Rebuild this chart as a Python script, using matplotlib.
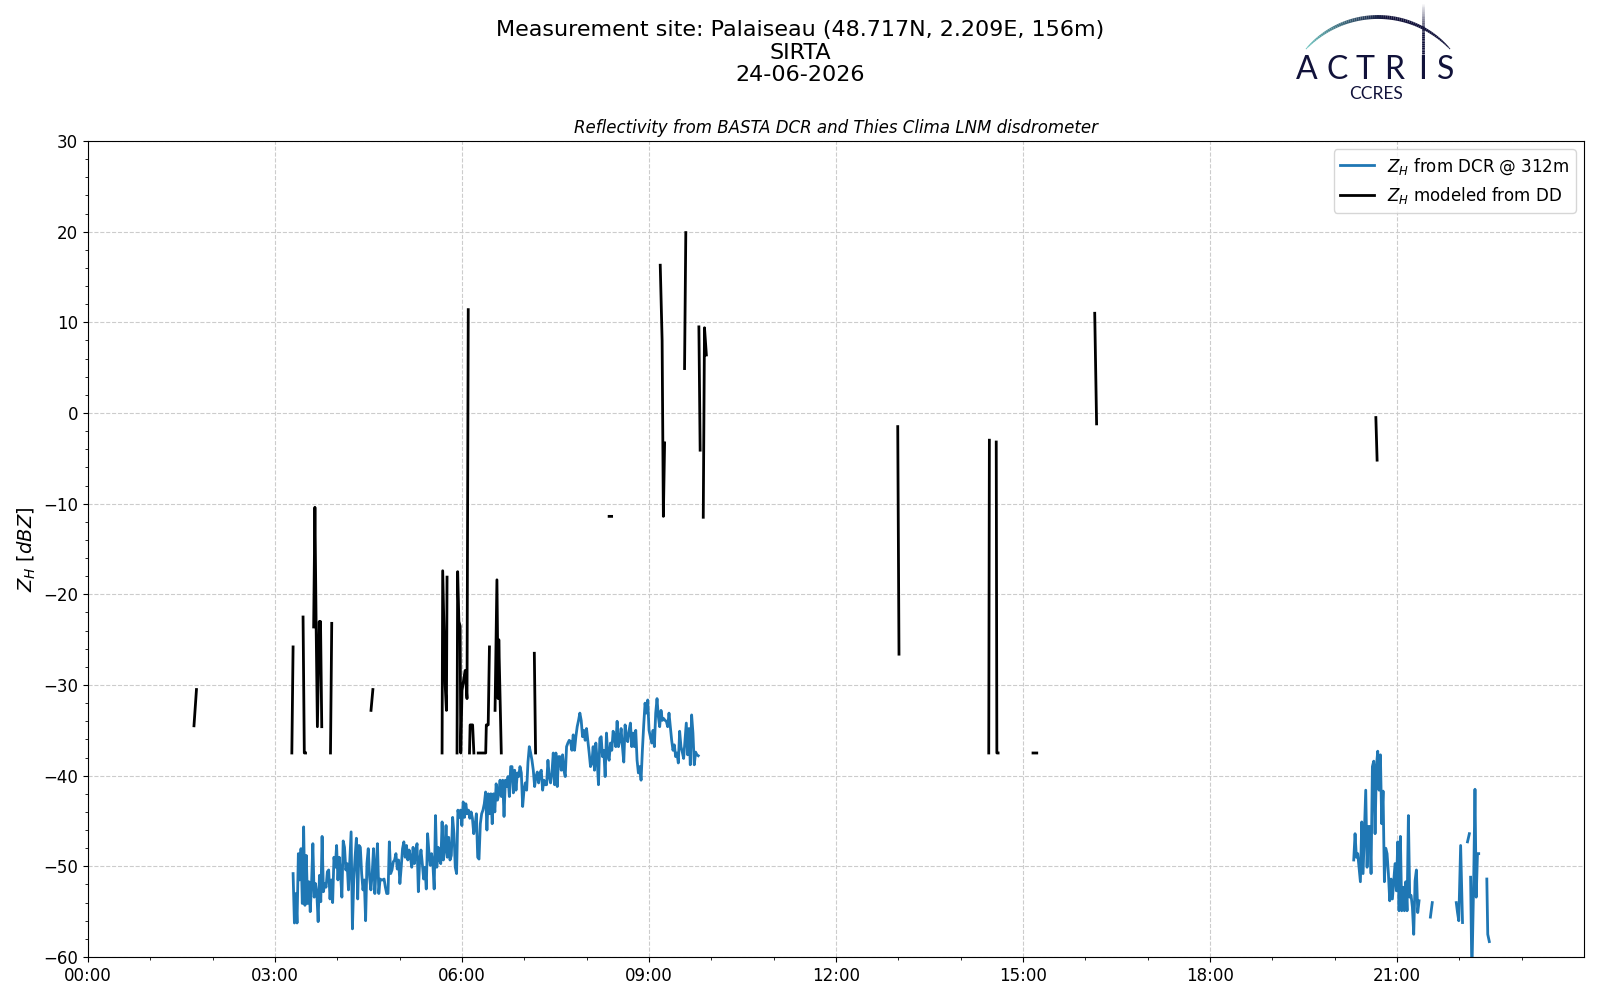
import numpy as np
import matplotlib
matplotlib.use("Agg")
import matplotlib.pyplot as plt
import matplotlib.dates as mdates
from matplotlib.ticker import MultipleLocator
from matplotlib.collections import LineCollection

day = np.datetime64("2026-06-24")
site = "Measurement site: Palaiseau (48.717N, 2.209E, 156m)"
station = "SIRTA"
date_str = "24-06-2026"
subtitle = "Reflectivity from BASTA DCR and Thies Clima LNM disdrometer"

# --- DCR reflectivity @ 312 m (dBZ), regular sampling inside each block
dcr_am1_span = (3.29, 6.59)
dcr_am1 = [-50.8, -56.25, -53.0, -56.25, -48.6, -51.5, -48.05, -54.1, -45.65, -54.3,
           -48.8, -54.1, -51.7, -55.0, -51.9, -47.5, -53.4, -51.9, -53.0, -56.1,
           -51.0, -53.9, -46.7, -52.8, -51.9, -52.3, -50.6, -50.4, -53.6, -51.5,
           -54.0, -49.0, -50.1, -47.7, -51.5, -49.0, -50.8, -53.4, -47.2, -47.9,
           -50.4, -49.7, -52.6, -49.3, -46.2, -56.9, -51.5, -49.0, -46.9, -53.6,
           -47.7, -47.9, -50.8, -52.6, -51.5, -56.0, -49.7, -48.05, -51.2, -52.6,
           -50.8, -48.05, -53.0, -50.1, -47.5, -53.0, -51.4, -51.5, -51.5, -51.4,
           -52.3, -53.0, -53.0, -47.3, -50.8, -50.4, -49.5, -49.3, -48.6, -50.3,
           -49.3, -51.9, -50.1, -48.05, -47.3, -49.0, -47.7, -49.3, -48.2, -49.0,
           -50.1, -47.9, -49.7, -48.4, -47.5, -52.8, -49.3, -48.2, -49.7, -51.4,
           -50.1, -52.5, -46.4, -48.4, -49.9, -48.6, -49.7, -52.5, -44.4, -50.1,
           -47.9, -49.3, -49.7, -45.1, -49.3, -48.2, -45.5, -49.0, -46.8, -49.3,
           -48.8, -44.6, -46.4, -50.1, -50.8, -43.8, -44.6, -43.8, -45.5, -42.9,
           -44.6, -43.1, -44.2, -43.8, -44.7, -44.0, -44.7, -46.4, -45.5, -44.2,
           -49.0, -49.2, -45.3, -44.2, -43.8, -43.1, -41.8, -46.0, -42.0, -44.2,
           -42.0, -45.3, -42.0, -44.0, -40.9, -42.7, -42.0]
dcr_am2_span = (6.61, 9.79)
dcr_am2 = [-40.5, -42.3, -40.5, -44.5, -40.5, -41.2, -40.1, -42.3, -39.0, -39.0,
           -41.9, -39.4, -41.6, -39.7, -40.1, -39.0, -39.7, -43.4, -41.6, -40.8,
           -41.6, -38.5, -36.8, -37.5, -38.3, -39.4, -41.2, -40.1, -39.6, -40.8,
           -39.7, -39.4, -41.6, -40.5, -41.0, -41.0, -38.3, -40.1, -40.8, -39.7,
           -37.5, -41.0, -37.5, -41.2, -37.9, -37.9, -39.4, -37.7, -39.4, -40.1,
           -36.8, -36.4, -36.1, -36.25, -37.2, -35.5, -37.2, -35.7, -34.6, -33.9,
           -33.1, -33.9, -35.7, -35.0, -36.1, -34.8, -36.1, -37.5, -39.0, -38.6,
           -36.8, -39.4, -36.4, -38.3, -41.0, -35.9, -35.7, -37.9, -37.2, -40.1,
           -35.3, -37.7, -38.3, -36.4, -37.2, -35.1, -35.7, -36.8, -34.0, -36.8,
           -36.1, -34.8, -36.8, -38.5, -34.4, -35.7, -36.25, -35.0, -34.2, -36.8,
           -35.3, -36.8, -35.0, -38.3, -39.7, -39.0, -40.5, -37.2, -34.4, -32.0,
           -33.1, -31.65, -35.0, -35.7, -36.4, -35.0, -36.8, -33.1, -31.5, -33.5,
           -34.6, -32.8, -33.9, -33.7, -33.9, -34.0, -34.6, -33.1, -34.6, -36.1,
           -37.2, -36.6, -37.9, -37.5, -38.6, -35.1, -36.8, -37.4, -38.1, -36.1,
           -34.2, -37.7, -34.8, -38.8, -33.3, -35.3, -38.8, -37.4, -37.7, -37.8]
dcr_pm_span = (20.305, 21.353)
dcr_pm = [-49.3, -46.4, -49.0, -48.6, -50.1, -51.7, -45.1, -50.8, -46.0, -41.6,
          -50.1, -45.6, -45.6, -50.8, -39.0, -38.4, -46.4, -39.0, -37.3, -41.6,
          -37.7, -45.3, -41.7, -51.7, -48.0, -48.6, -50.8, -53.8, -51.4, -53.6,
          -51.6, -49.7, -52.7, -47.3, -54.9, -46.7, -54.9, -52.3, -54.9, -51.7,
          -54.9, -44.4, -53.4, -53.2, -54.5, -57.5, -51.6, -50.4, -55.1, -53.8]
# short late-evening pieces: (hours, dBZ)
dcr_late_h = [[21.535, 21.565],
              [21.95, 21.97, 21.99, 22.02, 22.05],
              [22.13, 22.16],
              [22.18, 22.20, 22.23, 22.25, 22.27, 22.29, 22.31],
              [22.44, 22.455, 22.48]]
dcr_late_z = [[-55.6, -54.0],
              [-54.0, -55.1, -56.0, -47.7, -56.2],
              [-47.3, -46.4],
              [-51.2, -62.0, -51.3, -41.5, -53.4, -48.6, -48.6],
              [-51.4, -57.5, -58.3]]

# --- Zh modeled from disdrometer DSD (hours, dBZ), one list per rain spell
dd_h = [[1.70, 1.74],
        [3.27, 3.29],
        [3.45, 3.47, 3.49],
        [3.62, 3.64, 3.66, 3.68, 3.71, 3.72, 3.73, 3.75],
        [3.89, 3.91],
        [4.54, 4.57],
        [5.68, 5.69, 5.73, 5.75, 5.76],
        [5.92, 5.93, 5.95, 5.97, 5.98, 6.00, 6.05, 6.08, 6.10],
        [6.12, 6.13, 6.17, 6.19],
        [6.26, 6.38, 6.39, 6.42, 6.44],
        [6.53, 6.56, 6.58, 6.59, 6.63],
        [7.16, 7.18],
        [8.36, 8.40],
        [9.18, 9.21, 9.23, 9.25],
        [9.57, 9.59],
        [9.80, 9.82],
        [9.87, 9.89, 9.92],
        [12.99, 13.01],
        [14.45, 14.46],
        [14.57, 14.58, 14.60],
        [15.16, 15.22],
        [16.15, 16.18],
        [20.66, 20.68]]
dd_z = [[-34.5, -30.5],
        [-37.5, -25.8],
        [-22.5, -37.5, -37.5],
        [-23.6, -10.4, -23.6, -34.6, -23.0, -26.4, -23.0, -34.6],
        [-37.5, -23.2],
        [-32.8, -30.5],
        [-37.5, -17.4, -30.0, -32.8, -18.1],
        [-37.5, -17.5, -23.0, -23.5, -37.5, -30.6, -28.4, -31.5, 11.4],
        [-37.5, -34.4, -34.4, -37.5],
        [-37.5, -37.5, -34.4, -34.4, -25.8],
        [-32.8, -18.4, -31.5, -25.0, -37.5],
        [-26.5, -37.5],
        [-11.4, -11.4],
        [16.3, 8.0, -11.4, -3.3],
        [4.9, 19.9],
        [9.5, -4.1],
        [-11.5, 9.4, 6.4],
        [-1.5, -26.6],
        [-37.5, -3.0],
        [-3.2, -37.5, -37.5],
        [-37.5, -37.5],
        [11.0, -1.2],
        [-0.5, -5.2]]


def join(hours_list, z_list):
    # concatenate pieces with NaN breaks
    hh, zz = [], []
    for h, z in zip(hours_list, z_list):
        hh += list(h) + [np.nan]
        zz += list(z) + [np.nan]
    return np.array(hh), np.array(zz)


def to_num(hours):
    return mdates.date2num(day) + np.asarray(hours) / 24.0


dcr_hours = [np.linspace(*dcr_am1_span, len(dcr_am1)).tolist() +
             np.linspace(*dcr_am2_span, len(dcr_am2)).tolist(),
             np.linspace(*dcr_pm_span, len(dcr_pm)).tolist()] + dcr_late_h
dcr_vals = [dcr_am1 + dcr_am2, dcr_pm] + dcr_late_z
dcr_h, dcr_zh = join(dcr_hours, dcr_vals)
dd_hh, dd_zh = join(dd_h, dd_z)

fig = plt.figure(figsize=(16, 10), dpi=100)
ax = fig.add_axes([0.055, 0.043, 0.935, 0.816])

ax.plot(to_num(dcr_h), dcr_zh, color="#1f77b4", lw=2, label=r"$Z_H$ from DCR @ 312m")
ax.plot(to_num(dd_hh), dd_zh, color="black", lw=2, label=r"$Z_H$ modeled from DD")

ax.xaxis_date()
ax.set_xlim(to_num(0), to_num(23.999))
ax.xaxis.set_major_locator(mdates.HourLocator(byhour=range(0, 24, 3)))
ax.xaxis.set_minor_locator(mdates.HourLocator())
ax.xaxis.set_major_formatter(mdates.DateFormatter("%H:%M"))
ax.set_ylim(-60, 30)
ax.yaxis.set_major_locator(MultipleLocator(10))
ax.yaxis.set_minor_locator(MultipleLocator(2))
ax.tick_params(labelsize=12)
ax.grid(True, ls="--", color="#cccccc", lw=0.8)
ax.set_ylabel(r"$Z_H$ [$dBZ$]", fontsize=14)
ax.set_title(subtitle, fontsize=12, style="italic", pad=6)
ax.legend(loc="upper right", fontsize=12)

fig.text(0.5, 0.98, site + "\n" + station + "\n" + date_str,
         ha="center", va="top", fontsize=16, linespacing=1.17)

# --- ACTRIS / CCRES logo drawn in pixel space
logo = fig.add_axes([1285 / 1600, 1 - 110 / 1000, 180 / 1600, 110 / 1000])
logo.set_xlim(1285, 1465)
logo.set_ylim(110, 0)
logo.axis("off")
navy = "#11123a"
phi = np.radians(np.linspace(-48, 48, 80))
ax_x = 1378 + 97 * np.sin(phi)
ax_y = 114 - 97 * np.cos(phi)
pts = np.column_stack([ax_x, ax_y]).reshape(-1, 1, 2)
segs = np.concatenate([pts[:-1], pts[1:]], axis=1)
frac = np.linspace(0, 1, len(segs))
teal = np.array([0.42, 0.77, 0.75])
dark = np.array([0.07, 0.07, 0.23])
mix = np.clip(frac / 0.55, 0, 1)[:, None]
cols = teal * (1 - mix) + dark * mix
widths = 0.6 + 2.2 * np.sin(np.pi * frac) ** 0.7
logo.add_collection(LineCollection(segs, colors=cols, linewidths=widths))
vy = np.linspace(2, 54, 30)
vpts = np.column_stack([np.full_like(vy, 1423), vy]).reshape(-1, 1, 2)
vsegs = np.concatenate([vpts[:-1], vpts[1:]], axis=1)
valpha = np.clip(np.linspace(0, 1.6, len(vsegs)), 0, 1)
vcols = np.column_stack([np.tile(dark, (len(vsegs), 1)), valpha])
logo.add_collection(LineCollection(vsegs, colors=vcols, linewidths=2))
for letter, lx in zip("ACTRIS", [1307, 1337, 1365, 1394, 1423, 1446]):
    logo.text(lx, 79, letter, ha="center", va="baseline", fontsize=23,
              color=navy, family="Lato")
logo.text(1376, 99, "CCRES", ha="center", va="baseline", fontsize=12.5,
          color=navy, family="Lato")

fig.savefig("out.png", dpi=100)
